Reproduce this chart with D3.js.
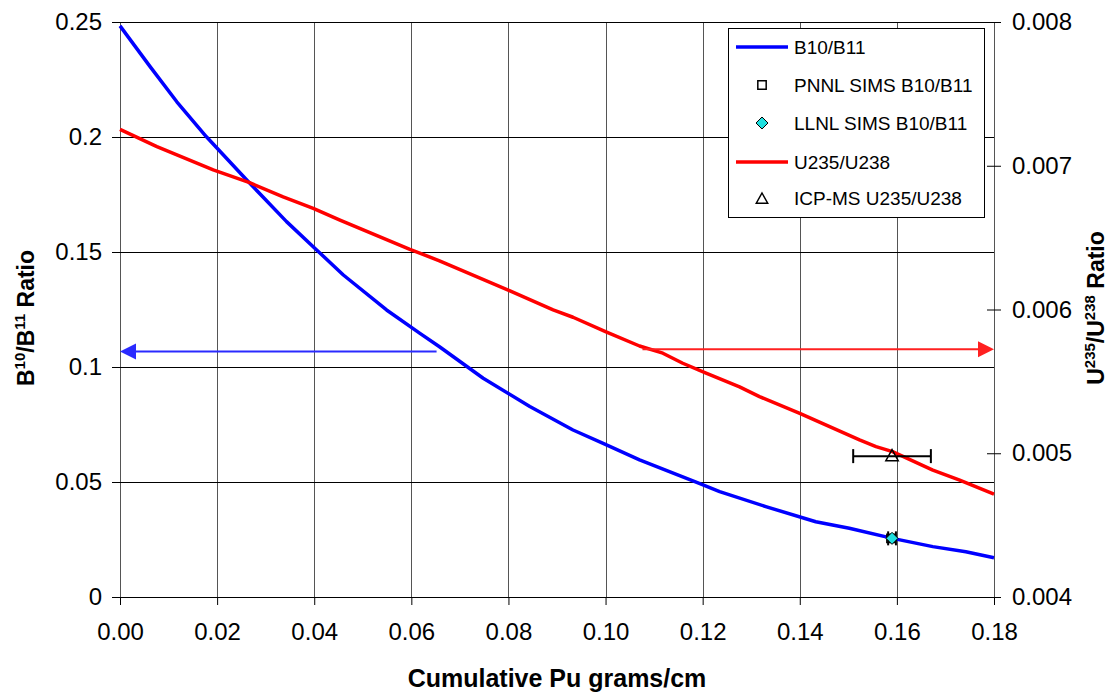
<!DOCTYPE html>
<html><head><meta charset="utf-8">
<script src="https://cdn.jsdelivr.net/npm/d3@7"></script>
<style>
html,body{margin:0;padding:0;background:#fff;}
text{font-family:"Liberation Sans",Arial,sans-serif;}
</style></head>
<body><svg id="c" width="1117" height="696"></svg>
<script>
// ---- data ----
const xTicks = [0,0.02,0.04,0.06,0.08,0.10,0.12,0.14,0.16,0.18];
const xTickLabels = ["0.00","0.02","0.04","0.06","0.08","0.10","0.12","0.14","0.16","0.18"];
const leftTicks = [0,0.05,0.1,0.15,0.2,0.25];
const leftTickLabels = ["0","0.05","0.1","0.15","0.2","0.25"];
const rightTicks = [0.004,0.005,0.006,0.007,0.008];
const rightTickLabels = ["0.004","0.005","0.006","0.007","0.008"];

const b10b11 = [[0,0.2483],[0.0062,0.2306],[0.0117,0.2153],[0.0178,0.2001],[0.0261,0.1813],[0.0343,0.1632],[0.0405,0.1509],[0.046,0.14],[0.0549,0.1248],[0.0617,0.1147],[0.0658,0.1088],[0.0748,0.0951],[0.0844,0.0828],[0.0933,0.0726],[0.0995,0.0668],[0.107,0.0596],[0.1193,0.0494],[0.1235,0.0458],[0.133,0.0393],[0.1433,0.0327],[0.1502,0.0299],[0.1591,0.0255],[0.1674,0.0219],[0.1742,0.0197],[0.18,0.0171]];
const u235u238 = [[0,0.007253],[0.0076,0.007133],[0.0192,0.006971],[0.0267,0.006882],[0.0336,0.006784],[0.0398,0.006704],[0.0453,0.006622],[0.0597,0.006419],[0.0658,0.006339],[0.0802,0.006131],[0.0892,0.005997],[0.0933,0.005946],[0.1001,0.005845],[0.107,0.005746],[0.1118,0.005696],[0.1159,0.005626],[0.1207,0.005557],[0.1276,0.005462],[0.1317,0.005394],[0.14,0.005278],[0.1523,0.005093],[0.1557,0.005046],[0.1591,0.005011],[0.1674,0.004883],[0.1728,0.004814],[0.18,0.004715]];
const pnnlSims = [{x:0.159, y:0.0255, xerr:0.0008}];
const llnlSims = [{x:0.159, y:0.0255}];
const icpMs = [{x:0.159, y:0.00498, xerr:0.008}];
const blueArrow = {from:0.0652, to:0, y:0.1067};
const redArrow = {from:0.1076, to:0.18, y:0.005723};
const legendLabels = ["B10/B11","PNNL SIMS B10/B11","LLNL SIMS B10/B11","U235/U238","ICP-MS U235/U238"];

// ---- scales ----
const svg = d3.select("#c");
const x = d3.scaleLinear().domain([0,0.18]).range([120,994]);
const yL = d3.scaleLinear().domain([0,0.25]).range([597,22]);
const yR = d3.scaleLinear().domain([0.004,0.008]).range([597,22]);

// gridlines
const g = svg.append("g");
g.selectAll("line.v").data(xTicks).join("line")
  .attr("x1",d=>Math.round(x(d))+0.5).attr("x2",d=>Math.round(x(d))+0.5)
  .attr("y1",yL(0.25)).attr("y2",yL(0))
  .attr("stroke","#555").attr("stroke-width",1);
g.selectAll("line.h").data(leftTicks).join("line")
  .attr("x1",x(0)).attr("x2",x(0.18))
  .attr("y1",d=>Math.round(yL(d))+0.5).attr("y2",d=>Math.round(yL(d))+0.5)
  .attr("stroke","#000").attr("stroke-width",1);

// axes
const fs = "24px";
const axL = svg.append("g").attr("transform",`translate(${x(0)},0)`)
  .call(d3.axisLeft(yL).tickValues(leftTicks).tickFormat((d,i)=>leftTickLabels[i]).tickSize(8).tickPadding(10));
const axR = svg.append("g").attr("transform",`translate(${x(0.18)},0)`)
  .call(d3.axisRight(yR).tickValues(rightTicks).tickFormat((d,i)=>rightTickLabels[i]).tickSizeInner(7).tickSizeOuter(0).tickPadding(11));
axR.selectAll(".tick line").attr("x1",-7);
const axB = svg.append("g").attr("transform",`translate(0,${yL(0)})`)
  .call(d3.axisBottom(x).tickValues(xTicks).tickFormat((d,i)=>xTickLabels[i]).tickSize(8).tickPadding(18));
[axL,axR,axB].forEach(a=>{
  a.selectAll("path.domain").attr("stroke","#000").attr("stroke-width",1);
  a.selectAll(".tick line").attr("stroke","#000");
  a.selectAll("text").attr("font-size",fs).attr("fill","#000").attr("font-family","Liberation Sans, Arial, sans-serif");
});
axL.select("path.domain").remove();
axR.select("path.domain").remove();
axB.select("path.domain").remove();

// curves
const lineL = d3.line().x(d=>x(d[0])).y(d=>yL(d[1]));
const lineR = d3.line().x(d=>x(d[0])).y(d=>yR(d[1]));
svg.append("path").datum(b10b11).attr("d",lineL).attr("fill","none").attr("stroke","#0000ff").attr("stroke-width",3.5).attr("stroke-linejoin","round");
svg.append("path").datum(u235u238).attr("d",lineR).attr("fill","none").attr("stroke","#ff0000").attr("stroke-width",3.5).attr("stroke-linejoin","round");

// arrows
function arrow(x1,x2,yy,color){
  const dir = Math.sign(x2-x1);
  svg.append("line").attr("x1",x1).attr("x2",x2-dir*12).attr("y1",yy).attr("y2",yy)
    .attr("stroke",color).attr("stroke-width",2);
  svg.append("path").attr("d",`M${x2},${yy} L${x2-dir*16},${yy-8} L${x2-dir*16},${yy+8} Z`).attr("fill",color);
}
arrow(x(blueArrow.from),x(blueArrow.to),yL(blueArrow.y),"#2a2aff");
arrow(x(redArrow.from),x(redArrow.to),yR(redArrow.y),"#ff2020");

// error bars + markers
function errBar(px,py,lo,hi){
  svg.append("line").attr("x1",lo).attr("x2",hi).attr("y1",py).attr("y2",py).attr("stroke","#000").attr("stroke-width",2);
  [lo,hi].forEach(v=>svg.append("line").attr("x1",v).attr("x2",v).attr("y1",py-7).attr("y2",py+7).attr("stroke","#000").attr("stroke-width",2));
}
icpMs.forEach(d=>errBar(x(d.x),yR(d.y),x(d.x-d.xerr),x(d.x+d.xerr)));
pnnlSims.forEach(d=>errBar(x(d.x),yL(d.y),x(d.x-d.xerr),x(d.x+d.xerr)));
const sq = d3.symbol().type(d3.symbolSquare).size(70);
const dm = (s)=>`M0,${-s} L${s},0 L0,${s} L${-s},0 Z`;
const tri = (s)=>`M0,${-s} L${s*0.95},${s*0.7} L${-s*0.95},${s*0.7} Z`;
svg.selectAll("path.pn").data(pnnlSims).join("path").attr("transform",d=>`translate(${x(d.x)-1},${yL(d.y)})`)
  .attr("d",sq).attr("fill","none").attr("stroke","#000").attr("stroke-width",1.5);
svg.selectAll("path.ll").data(llnlSims).join("path").attr("transform",d=>`translate(${x(d.x)},${yL(d.y)})`)
  .attr("d",dm(6)).attr("fill","#20e0e0").attr("stroke","#000").attr("stroke-width",1);
svg.selectAll("path.icp").data(icpMs).join("path").attr("transform",d=>`translate(${x(d.x)},${yR(d.y)})`)
  .attr("d",tri(6.5)).attr("fill","none").attr("stroke","#000").attr("stroke-width",1.5);

// axis titles
svg.append("text").attr("x",557).attr("y",687).attr("text-anchor","middle")
  .attr("font-size","25px").attr("font-weight","bold").text("Cumulative Pu grams/cm");
function supTitle(tx,ty,parts){
  const t = svg.append("text").attr("transform",`translate(${tx},${ty}) rotate(-90)`)
    .attr("text-anchor","middle").attr("font-size","23px").attr("font-weight","bold");
  parts.forEach(p=>{
    const s = t.append("tspan").text(p[0]);
    if(p[1]) s.attr("font-size","15px").attr("dy","-9");
    else if(p[2]) s.attr("dy","9");
  });
}
supTitle(34,318,[["B"],["10",1],["/B",0,1],["11",1],[" Ratio",0,1]]);
supTitle(1104,308,[["U"],["235",1],["/U",0,1],["238",1],[" Ratio",0,1]]);

// legend
const lg = svg.append("g");
lg.append("rect").attr("x",728.5).attr("y",28.5).attr("width",256).attr("height",189)
  .attr("fill","#fff").attr("stroke","#000").attr("stroke-width",1);
const ly = [47,85,123,162,198];
legendLabels.forEach((lab,i)=>{
  lg.append("text").attr("x",794).attr("y",ly[i]).attr("dy","0.35em").attr("font-size","19px").text(lab);
});
lg.append("line").attr("x1",736).attr("x2",788).attr("y1",ly[0]).attr("y2",ly[0]).attr("stroke","#0000ff").attr("stroke-width",3.5);
lg.append("line").attr("x1",736).attr("x2",788).attr("y1",ly[3]).attr("y2",ly[3]).attr("stroke","#ff0000").attr("stroke-width",3.5);
lg.append("path").attr("transform",`translate(762,${ly[1]})`).attr("d",sq).attr("fill","none").attr("stroke","#000").attr("stroke-width",1.5);
lg.append("path").attr("transform",`translate(762,${ly[2]})`).attr("d",dm(6)).attr("fill","#20e0e0").attr("stroke","#000").attr("stroke-width",1);
lg.append("path").attr("transform",`translate(762,${ly[4]+1})`).attr("d",tri(6)).attr("fill","none").attr("stroke","#000").attr("stroke-width",1.5);
</script></body></html>
